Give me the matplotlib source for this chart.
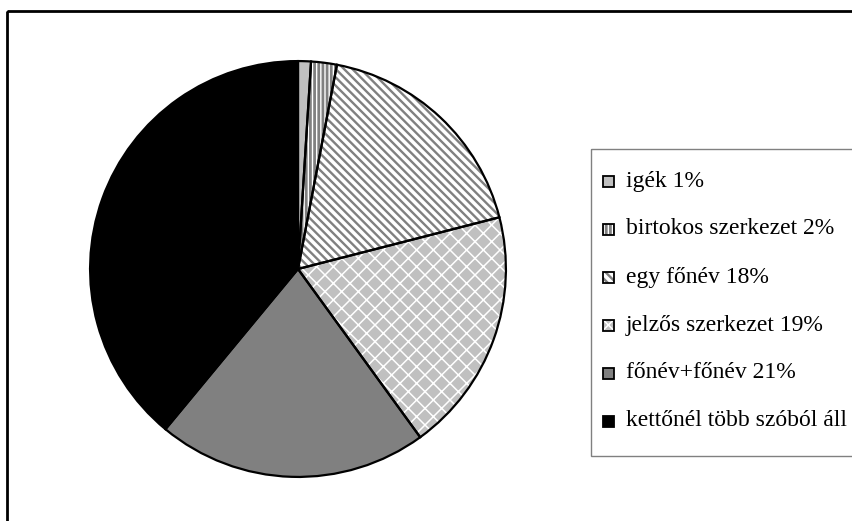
import matplotlib.pyplot as plt
from matplotlib.patches import Rectangle

plt.rcParams['font.family'] = ['Liberation Serif', 'DejaVu Serif']

# share of each expression type (percent)
names = ["igék", "birtokos szerkezet", "egy főnév", "jelzős szerkezet",
         "főnév+főnév", "kettőnél több szóból áll"]
shares = [1, 2, 18, 19, 21, 39]
# legend texts (the last one is shown without its percentage)
legend_labels = [f"{n} {p}%" for n, p in zip(names[:-1], shares[:-1])] + [names[-1]]

# fill / hatch style per slice: (face, hatch, hatch colour, hatch width)
styles = [
    ("#c0c0c0", None, "#c0c0c0", 1.0),
    ("white", "||||", "#808080", 2.0),
    ("white", "\\\\\\\\", "#808080", 1.7),
    ("#c0c0c0", "xx", "white", 1.1),
    ("#808080", None, "#808080", 1.0),
    ("black", None, "black", 1.0),
]


def set_hatch_width(patch, lw):
    try:
        patch.set_hatch_linewidth(lw)
    except AttributeError:
        patch._hatch_linewidth = lw


W, H = 853, 521
fig = plt.figure(figsize=(W / 100, H / 100), dpi=100)

# pie: centre (298, 269) px, radius 210 px
ax = fig.add_axes([88 / W, (H - 479) / H, 420 / W, 420 / H])
wedges, _ = ax.pie(shares, startangle=90, counterclock=False,
                   colors=[s[0] for s in styles])
for w, (face, hatch, hcol, hlw) in zip(wedges, styles):
    w.set_edgecolor(hcol)
    w.set_linewidth(0)
    if hatch:
        w.set_hatch(hatch)
        set_hatch_width(w, hlw)
# black outlines on top of the hatched fills
ax.pie(shares, startangle=90, counterclock=False,
       wedgeprops=dict(fill=False, edgecolor="black", linewidth=1.6))
ax.set_xlim(-1.01, 1.01)
ax.set_ylim(-1.01, 1.01)
ax.set_aspect("auto")

# overlay in pixel units for frame and legend
ov = fig.add_axes([0, 0, 1, 1], zorder=5)
ov.set_xlim(0, W)
ov.set_ylim(H, 0)
ov.axis("off")
ov.patch.set_alpha(0)

# outer chart frame (top and left edges visible)
ov.add_patch(Rectangle((7, 11), 900, 600, fill=False, edgecolor="black",
                       linewidth=2.0, clip_on=False))

# legend box
ov.add_patch(Rectangle((591, 149), 300, 307, fill=False, edgecolor="#808080",
                       linewidth=1.0, clip_on=False))
for i, (label, (face, hatch, hcol, hlw)) in enumerate(zip(legend_labels, styles)):
    y = 181 + i * 48
    sq = Rectangle((603, y - 5.5), 11, 11, facecolor=face, edgecolor=hcol,
                   linewidth=0, hatch=hatch)
    if hatch:
        set_hatch_width(sq, hlw)
    ov.add_patch(sq)
    ov.add_patch(Rectangle((603, y - 5.5), 11, 11, fill=False,
                           edgecolor="black", linewidth=1.3))
    ov.text(626, y, label, fontsize=17, va="center", ha="left",
            color="black")

fig.savefig("out.png", dpi=100)
